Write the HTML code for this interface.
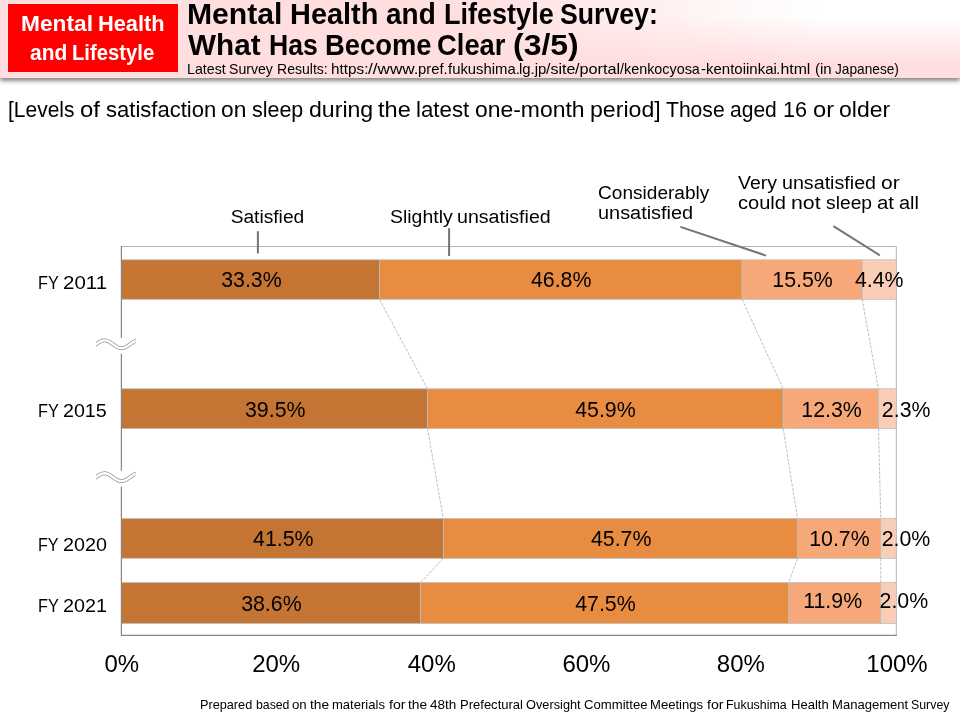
<!DOCTYPE html>
<html lang="en">
<head>
<meta charset="utf-8">
<title>Mental Health and Lifestyle Survey: What Has Become Clear (3/5)</title>
<style>
html,body{margin:0;padding:0;background:#fff;}
body{width:960px;height:720px;position:relative;overflow:hidden;font-family:"Liberation Sans",sans-serif;color:#000;}
#hdr{position:absolute;left:0;top:0;width:960px;height:77.8px;background:linear-gradient(to bottom,rgba(255,222,223,0) 17px,#FFDEDF 64px),linear-gradient(to right,rgba(255,255,255,0) 450px,#fff 820px),#FFDEDF;box-shadow:0 3px 4px rgba(0,0,0,.46);}
#tag{position:absolute;left:8px;top:4px;width:170px;height:67.8px;background:#FF0000;box-shadow:0 0 0 1px rgba(255,255,255,.32);}
.ln{position:absolute;left:0;top:0;width:0;height:0;}
.t{position:absolute;display:block;white-space:nowrap;transform-origin:0 0;}
svg{position:absolute;left:0;top:0;}
</style>
</head>
<body>
<div id="hdr"></div>
<div id="tag"></div>
<svg width="960" height="720" viewBox="0 0 960 720">
<path d="M121.4 246.5H896.3V635.3" fill="none" stroke="#B4B4B4" stroke-width="1"/>
<rect x="121.40" y="259.8" width="258.04" height="39.50" fill="#C47534" stroke="#BDBDBD" stroke-width="0.8"/>
<rect x="379.44" y="259.8" width="362.65" height="39.50" fill="#E88C42" stroke="#BDBDBD" stroke-width="0.8"/>
<rect x="742.09" y="259.8" width="120.11" height="39.50" fill="#F7A878" stroke="#BDBDBD" stroke-width="0.8"/>
<rect x="862.20" y="259.8" width="34.10" height="39.50" fill="#FACDB7" stroke="#BDBDBD" stroke-width="0.8"/>
<rect x="121.40" y="388.8" width="306.09" height="39.70" fill="#C47534" stroke="#BDBDBD" stroke-width="0.8"/>
<rect x="427.49" y="388.8" width="355.68" height="39.70" fill="#E88C42" stroke="#BDBDBD" stroke-width="0.8"/>
<rect x="783.16" y="388.8" width="95.31" height="39.70" fill="#F7A878" stroke="#BDBDBD" stroke-width="0.8"/>
<rect x="878.48" y="388.8" width="17.82" height="39.70" fill="#FACDB7" stroke="#BDBDBD" stroke-width="0.8"/>
<rect x="121.40" y="518.6" width="321.97" height="39.70" fill="#C47534" stroke="#BDBDBD" stroke-width="0.8"/>
<rect x="443.37" y="518.6" width="354.13" height="39.70" fill="#E88C42" stroke="#BDBDBD" stroke-width="0.8"/>
<rect x="797.50" y="518.6" width="83.30" height="39.70" fill="#F7A878" stroke="#BDBDBD" stroke-width="0.8"/>
<rect x="880.80" y="518.6" width="15.50" height="39.70" fill="#FACDB7" stroke="#BDBDBD" stroke-width="0.8"/>
<rect x="121.40" y="582.6" width="299.11" height="40.90" fill="#C47534" stroke="#BDBDBD" stroke-width="0.8"/>
<rect x="420.51" y="582.6" width="368.08" height="40.90" fill="#E88C42" stroke="#BDBDBD" stroke-width="0.8"/>
<rect x="788.59" y="582.6" width="92.21" height="40.90" fill="#F7A878" stroke="#BDBDBD" stroke-width="0.8"/>
<rect x="880.80" y="582.6" width="15.50" height="40.90" fill="#FACDB7" stroke="#BDBDBD" stroke-width="0.8"/>
<line x1="379.44" y1="299.3" x2="427.49" y2="388.8" stroke="#ADADAD" stroke-width="0.8" stroke-dasharray="3 1.3"/>
<line x1="742.09" y1="299.3" x2="783.16" y2="388.8" stroke="#ADADAD" stroke-width="0.8" stroke-dasharray="3 1.3"/>
<line x1="862.20" y1="299.3" x2="878.48" y2="388.8" stroke="#ADADAD" stroke-width="0.8" stroke-dasharray="3 1.3"/>
<line x1="427.49" y1="428.5" x2="443.37" y2="518.6" stroke="#ADADAD" stroke-width="0.8" stroke-dasharray="3 1.3"/>
<line x1="783.16" y1="428.5" x2="797.50" y2="518.6" stroke="#ADADAD" stroke-width="0.8" stroke-dasharray="3 1.3"/>
<line x1="878.48" y1="428.5" x2="880.80" y2="518.6" stroke="#ADADAD" stroke-width="0.8" stroke-dasharray="3 1.3"/>
<line x1="443.37" y1="558.3" x2="420.51" y2="582.6" stroke="#ADADAD" stroke-width="0.8" stroke-dasharray="3 1.3"/>
<line x1="797.50" y1="558.3" x2="788.59" y2="582.6" stroke="#ADADAD" stroke-width="0.8" stroke-dasharray="3 1.3"/>
<line x1="880.80" y1="558.3" x2="880.80" y2="582.6" stroke="#ADADAD" stroke-width="0.8" stroke-dasharray="3 1.3"/>
<path d="M121.4 246.0V635.3H896.8" fill="none" stroke="#858585" stroke-width="1.2"/>
<line x1="257.9" y1="231.2" x2="257.9" y2="253.5" stroke="#747474" stroke-width="2"/>
<line x1="449.1" y1="228.1" x2="449.1" y2="256" stroke="#747474" stroke-width="2"/>
<line x1="680.4" y1="226.9" x2="766" y2="255.6" stroke="#747474" stroke-width="2"/>
<line x1="833.4" y1="226.1" x2="879.8" y2="255.3" stroke="#747474" stroke-width="2"/>
<rect x="119.4" y="337.90" width="4" height="15.8" fill="#fff"/><clipPath id="wc1"><rect x="96.0" y="332.3" width="39.69999999999999" height="24"/></clipPath><g clip-path="url(#wc1)"><path d="M94.20 345.58L94.80 345.16L95.40 344.73L96.00 344.30L96.60 343.87L97.20 343.44L97.80 343.02L98.41 342.62L99.01 342.24L99.61 341.89L100.21 341.56L100.81 341.27L101.41 341.02L102.02 340.80L102.62 340.63L103.22 340.51L103.82 340.43L104.42 340.40L105.02 340.42L105.62 340.48L106.23 340.60L106.83 340.76L107.43 340.96L108.03 341.20L108.63 341.48L109.23 341.80L109.83 342.15L110.44 342.52L111.04 342.92L111.64 343.33L112.24 343.75L112.84 344.19L113.44 344.62L114.05 345.05L114.65 345.47L115.25 345.87L115.85 346.26L116.45 346.62L117.05 346.96L117.65 347.26L118.26 347.52L118.86 347.74L119.46 347.93L120.06 348.06L120.66 348.15L121.26 348.20L121.87 348.19L122.47 348.14L123.07 348.04L123.67 347.89L124.27 347.70L124.87 347.47L125.47 347.19L126.08 346.89L126.68 346.55L127.28 346.18L127.88 345.79L128.48 345.38L129.08 344.96L129.68 344.53L130.29 344.09L130.89 343.66L131.49 343.24L132.09 342.83L132.69 342.44L133.29 342.07L133.90 341.73L134.50 341.42L135.10 341.15L135.70 340.91L136.30 340.72L136.90 340.57L137.50 340.47" fill="none" stroke="#969696" stroke-width="3.9"/><path d="M94.20 345.58L94.80 345.16L95.40 344.73L96.00 344.30L96.60 343.87L97.20 343.44L97.80 343.02L98.41 342.62L99.01 342.24L99.61 341.89L100.21 341.56L100.81 341.27L101.41 341.02L102.02 340.80L102.62 340.63L103.22 340.51L103.82 340.43L104.42 340.40L105.02 340.42L105.62 340.48L106.23 340.60L106.83 340.76L107.43 340.96L108.03 341.20L108.63 341.48L109.23 341.80L109.83 342.15L110.44 342.52L111.04 342.92L111.64 343.33L112.24 343.75L112.84 344.19L113.44 344.62L114.05 345.05L114.65 345.47L115.25 345.87L115.85 346.26L116.45 346.62L117.05 346.96L117.65 347.26L118.26 347.52L118.86 347.74L119.46 347.93L120.06 348.06L120.66 348.15L121.26 348.20L121.87 348.19L122.47 348.14L123.07 348.04L123.67 347.89L124.27 347.70L124.87 347.47L125.47 347.19L126.08 346.89L126.68 346.55L127.28 346.18L127.88 345.79L128.48 345.38L129.08 344.96L129.68 344.53L130.29 344.09L130.89 343.66L131.49 343.24L132.09 342.83L132.69 342.44L133.29 342.07L133.90 341.73L134.50 341.42L135.10 341.15L135.70 340.91L136.30 340.72L136.90 340.57L137.50 340.47" fill="none" stroke="#fff" stroke-width="2.4"/></g>
<rect x="119.4" y="470.80" width="4" height="15.8" fill="#fff"/><clipPath id="wc2"><rect x="96.0" y="465.2" width="39.69999999999999" height="24"/></clipPath><g clip-path="url(#wc2)"><path d="M94.20 478.48L94.80 478.06L95.40 477.63L96.00 477.20L96.60 476.77L97.20 476.34L97.80 475.92L98.41 475.52L99.01 475.14L99.61 474.79L100.21 474.46L100.81 474.17L101.41 473.92L102.02 473.70L102.62 473.53L103.22 473.41L103.82 473.33L104.42 473.30L105.02 473.32L105.62 473.38L106.23 473.50L106.83 473.66L107.43 473.86L108.03 474.10L108.63 474.38L109.23 474.70L109.83 475.05L110.44 475.42L111.04 475.82L111.64 476.23L112.24 476.65L112.84 477.09L113.44 477.52L114.05 477.95L114.65 478.37L115.25 478.77L115.85 479.16L116.45 479.52L117.05 479.86L117.65 480.16L118.26 480.42L118.86 480.64L119.46 480.83L120.06 480.96L120.66 481.05L121.26 481.10L121.87 481.09L122.47 481.04L123.07 480.94L123.67 480.79L124.27 480.60L124.87 480.37L125.47 480.09L126.08 479.79L126.68 479.45L127.28 479.08L127.88 478.69L128.48 478.28L129.08 477.86L129.68 477.43L130.29 476.99L130.89 476.56L131.49 476.14L132.09 475.73L132.69 475.34L133.29 474.97L133.90 474.63L134.50 474.32L135.10 474.05L135.70 473.81L136.30 473.62L136.90 473.47L137.50 473.37" fill="none" stroke="#969696" stroke-width="3.9"/><path d="M94.20 478.48L94.80 478.06L95.40 477.63L96.00 477.20L96.60 476.77L97.20 476.34L97.80 475.92L98.41 475.52L99.01 475.14L99.61 474.79L100.21 474.46L100.81 474.17L101.41 473.92L102.02 473.70L102.62 473.53L103.22 473.41L103.82 473.33L104.42 473.30L105.02 473.32L105.62 473.38L106.23 473.50L106.83 473.66L107.43 473.86L108.03 474.10L108.63 474.38L109.23 474.70L109.83 475.05L110.44 475.42L111.04 475.82L111.64 476.23L112.24 476.65L112.84 477.09L113.44 477.52L114.05 477.95L114.65 478.37L115.25 478.77L115.85 479.16L116.45 479.52L117.05 479.86L117.65 480.16L118.26 480.42L118.86 480.64L119.46 480.83L120.06 480.96L120.66 481.05L121.26 481.10L121.87 481.09L122.47 481.04L123.07 480.94L123.67 480.79L124.27 480.60L124.87 480.37L125.47 480.09L126.08 479.79L126.68 479.45L127.28 479.08L127.88 478.69L128.48 478.28L129.08 477.86L129.68 477.43L130.29 476.99L130.89 476.56L131.49 476.14L132.09 475.73L132.69 475.34L133.29 474.97L133.90 474.63L134.50 474.32L135.10 474.05L135.70 473.81L136.30 473.62L136.90 473.47L137.50 473.37" fill="none" stroke="#fff" stroke-width="2.4"/></g>
</svg>
<div class="ln"><span class="t" style="left:20.52px;top:10.99px;font-size:22.2px;line-height:26.64px;transform:scaleX(1.0240);font-weight:bold;color:#fff;">Mental</span> <span class="t" style="left:97.68px;top:10.99px;font-size:22.2px;line-height:26.64px;transform:scaleX(0.9824);font-weight:bold;color:#fff;">Health</span></div>
<div class="ln"><span class="t" style="left:29.88px;top:39.99px;font-size:22.2px;line-height:26.64px;transform:scaleX(0.9441);font-weight:bold;color:#fff;">and</span> <span class="t" style="left:72.41px;top:39.99px;font-size:22.2px;line-height:26.64px;transform:scaleX(0.9128);font-weight:bold;color:#fff;">Lifestyle</span></div>
<div class="ln"><span class="t" style="left:186.94px;top:-4.02px;font-size:29.6px;line-height:35.52px;transform:scaleX(1.0184);font-weight:bold;">Mental</span> <span class="t" style="left:289.85px;top:-4.02px;font-size:29.6px;line-height:35.52px;transform:scaleX(0.9770);font-weight:bold;">Health</span> <span class="t" style="left:386.18px;top:-4.02px;font-size:29.6px;line-height:35.52px;transform:scaleX(0.9447);font-weight:bold;">and</span> <span class="t" style="left:444.13px;top:-4.02px;font-size:29.6px;line-height:35.52px;transform:scaleX(0.9135);font-weight:bold;">Lifestyle</span> <span class="t" style="left:560.14px;top:-4.02px;font-size:29.6px;line-height:35.52px;transform:scaleX(0.9011);font-weight:bold;">Survey:</span></div>
<div class="ln"><span class="t" style="left:188.00px;top:26.98px;font-size:29.6px;line-height:35.52px;transform:scaleX(1.0028);font-weight:bold;">What</span> <span class="t" style="left:269.33px;top:26.98px;font-size:29.6px;line-height:35.52px;transform:scaleX(0.8999);font-weight:bold;">Has</span> <span class="t" style="left:324.60px;top:26.98px;font-size:29.6px;line-height:35.52px;transform:scaleX(0.9244);font-weight:bold;">Become</span> <span class="t" style="left:437.48px;top:26.98px;font-size:29.6px;line-height:35.52px;transform:scaleX(0.9252);font-weight:bold;">Clear</span> <span class="t" style="left:512.84px;top:26.98px;font-size:29.6px;line-height:35.52px;transform:scaleX(1.0794);font-weight:bold;">(3/5)</span></div>
<div class="ln"><span class="t" style="left:186.86px;top:60.99px;font-size:14.8px;line-height:17.76px;transform:scaleX(0.9611);">Latest</span> <span class="t" style="left:229.20px;top:60.99px;font-size:14.8px;line-height:17.76px;transform:scaleX(0.9525);">Survey</span> <span class="t" style="left:276.73px;top:60.99px;font-size:14.8px;line-height:17.76px;transform:scaleX(0.9484);">Results:</span> <span class="t" style="left:331.03px;top:60.99px;font-size:14.8px;line-height:17.76px;transform:scaleX(1.0341);">https:</span><span class="t" style="left:368.12px;top:60.99px;font-size:14.8px;line-height:17.76px;transform:scaleX(1.1589);">//www.</span><span class="t" style="left:418.27px;top:60.99px;font-size:14.8px;line-height:17.76px;transform:scaleX(1.0001);">pref.</span><span class="t" style="left:447.60px;top:60.99px;font-size:14.8px;line-height:17.76px;transform:scaleX(1.0050);">fukushima.</span><span class="t" style="left:519.06px;top:60.99px;font-size:14.8px;line-height:17.76px;transform:scaleX(1.0089);">lg.jp</span><span class="t" style="left:546.24px;top:60.99px;font-size:14.8px;line-height:17.76px;transform:scaleX(1.0782);">/site</span><span class="t" style="left:575.21px;top:60.99px;font-size:14.8px;line-height:17.76px;transform:scaleX(1.0985);">/portal</span><span class="t" style="left:620.34px;top:60.99px;font-size:14.8px;line-height:17.76px;transform:scaleX(0.9708);">/kenkocyosa</span><span class="t" style="left:701.17px;top:60.99px;font-size:14.8px;line-height:17.76px;transform:scaleX(1.0128);">-kentoiinkai</span><span class="t" style="left:776.46px;top:60.99px;font-size:14.8px;line-height:17.76px;transform:scaleX(1.0723);">.html</span> <span class="t" style="left:814.82px;top:60.99px;font-size:14.8px;line-height:17.76px;transform:scaleX(1.0135);">(in</span> <span class="t" style="left:835.20px;top:60.99px;font-size:14.8px;line-height:17.76px;transform:scaleX(0.9245);">Japanese)</span></div>
<div class="ln"><span class="t" style="left:8.03px;top:96.99px;font-size:22.2px;line-height:26.64px;transform:scaleX(0.9452);">[Levels</span> <span class="t" style="left:79.85px;top:96.99px;font-size:22.2px;line-height:26.64px;transform:scaleX(1.0778);">of</span> <span class="t" style="left:105.58px;top:96.99px;font-size:22.2px;line-height:26.64px;transform:scaleX(0.9927);">satisfaction</span> <span class="t" style="left:221.30px;top:96.99px;font-size:22.2px;line-height:26.64px;transform:scaleX(1.0253);">on</span> <span class="t" style="left:252.30px;top:96.99px;font-size:22.2px;line-height:26.64px;transform:scaleX(0.9671);">sleep</span> <span class="t" style="left:308.94px;top:96.99px;font-size:22.2px;line-height:26.64px;transform:scaleX(1.0408);">during</span> <span class="t" style="left:377.58px;top:96.99px;font-size:22.2px;line-height:26.64px;transform:scaleX(1.0638);">the</span> <span class="t" style="left:415.89px;top:96.99px;font-size:22.2px;line-height:26.64px;transform:scaleX(1.0030);">latest</span> <span class="t" style="left:474.76px;top:96.99px;font-size:22.2px;line-height:26.64px;transform:scaleX(1.0330);">one-month</span> <span class="t" style="left:590.06px;top:96.99px;font-size:22.2px;line-height:26.64px;transform:scaleX(1.0419);">period]</span> <span class="t" style="left:666.31px;top:96.99px;font-size:22.2px;line-height:26.64px;transform:scaleX(0.9507);">Those</span> <span class="t" style="left:730.44px;top:96.99px;font-size:22.2px;line-height:26.64px;transform:scaleX(0.9481);">aged</span> <span class="t" style="left:783.40px;top:96.99px;font-size:22.2px;line-height:26.64px;transform:scaleX(0.9750);">16</span> <span class="t" style="left:812.68px;top:96.99px;font-size:22.2px;line-height:26.64px;transform:scaleX(1.0651);">or</span> <span class="t" style="left:839.20px;top:96.99px;font-size:22.2px;line-height:26.64px;transform:scaleX(1.0351);">older</span></div>
<div class="ln"><span class="t" style="left:230.64px;top:204.83px;font-size:19.2px;line-height:23.04px;transform:scaleX(1.0000);">Satisfied</span></div>
<div class="ln"><span class="t" style="left:389.72px;top:204.83px;font-size:19.2px;line-height:23.04px;transform:scaleX(1.0134);">Slightly</span> <span class="t" style="left:457.44px;top:204.83px;font-size:19.2px;line-height:23.04px;transform:scaleX(1.0215);">unsatisfied</span></div>
<div class="ln"><span class="t" style="left:597.80px;top:180.83px;font-size:19.2px;line-height:23.04px;transform:scaleX(0.9942);">Considerably</span></div>
<div class="ln"><span class="t" style="left:597.56px;top:200.83px;font-size:19.2px;line-height:23.04px;transform:scaleX(1.0367);">unsatisfied</span></div>
<div class="ln"><span class="t" style="left:738.30px;top:170.83px;font-size:19.2px;line-height:23.04px;transform:scaleX(1.0148);">Very</span> <span class="t" style="left:782.30px;top:170.83px;font-size:19.2px;line-height:23.04px;transform:scaleX(1.0249);">unsatisfied</span> <span class="t" style="left:881.33px;top:170.83px;font-size:19.2px;line-height:23.04px;transform:scaleX(1.0981);">or</span></div>
<div class="ln"><span class="t" style="left:737.50px;top:190.83px;font-size:19.2px;line-height:23.04px;transform:scaleX(1.0448);">could</span> <span class="t" style="left:790.54px;top:190.83px;font-size:19.2px;line-height:23.04px;transform:scaleX(1.1123);">not</span> <span class="t" style="left:825.53px;top:190.83px;font-size:19.2px;line-height:23.04px;transform:scaleX(1.0043);">sleep</span> <span class="t" style="left:876.53px;top:190.83px;font-size:19.2px;line-height:23.04px;transform:scaleX(1.0658);">at</span> <span class="t" style="left:898.81px;top:190.83px;font-size:19.2px;line-height:23.04px;transform:scaleX(1.0373);">all</span></div>
<div class="ln"><span class="t" style="left:38.10px;top:270.83px;font-size:19.2px;line-height:23.04px;transform:scaleX(0.8473);">FY</span> <span class="t" style="left:63.20px;top:270.83px;font-size:19.2px;line-height:23.04px;transform:scaleX(1.0668);">2011</span></div>
<div class="ln"><span class="t" style="left:38.09px;top:398.83px;font-size:19.2px;line-height:23.04px;transform:scaleX(0.8514);">FY</span> <span class="t" style="left:63.36px;top:398.83px;font-size:19.2px;line-height:23.04px;transform:scaleX(1.0242);">2015</span></div>
<div class="ln"><span class="t" style="left:38.11px;top:532.83px;font-size:19.2px;line-height:23.04px;transform:scaleX(0.8418);">FY</span> <span class="t" style="left:63.08px;top:532.83px;font-size:19.2px;line-height:23.04px;transform:scaleX(1.0287);">2020</span></div>
<div class="ln"><span class="t" style="left:38.10px;top:593.83px;font-size:19.2px;line-height:23.04px;transform:scaleX(0.8473);">FY</span> <span class="t" style="left:63.24px;top:593.83px;font-size:19.2px;line-height:23.04px;transform:scaleX(1.0296);">2021</span></div>
<div class="ln"><span class="t" style="left:199.73px;top:696.70px;font-size:13.0px;line-height:15.6px;transform:scaleX(0.9765);">Prepared</span> <span class="t" style="left:255.50px;top:696.70px;font-size:13.0px;line-height:15.6px;transform:scaleX(0.9441);">based</span> <span class="t" style="left:292.23px;top:696.70px;font-size:13.0px;line-height:15.6px;transform:scaleX(1.0193);">on</span> <span class="t" style="left:310.17px;top:696.70px;font-size:13.0px;line-height:15.6px;transform:scaleX(1.0575);">the</span> <span class="t" style="left:332.47px;top:696.70px;font-size:13.0px;line-height:15.6px;transform:scaleX(1.0032);">materials</span> <span class="t" style="left:388.51px;top:696.70px;font-size:13.0px;line-height:15.6px;transform:scaleX(1.0846);">for</span> <span class="t" style="left:408.21px;top:696.70px;font-size:13.0px;line-height:15.6px;transform:scaleX(1.0575);">the</span> <span class="t" style="left:430.32px;top:696.70px;font-size:13.0px;line-height:15.6px;transform:scaleX(1.0382);">48th</span> <span class="t" style="left:459.71px;top:696.70px;font-size:13.0px;line-height:15.6px;transform:scaleX(1.0016);">Prefectural</span> <span class="t" style="left:525.91px;top:696.70px;font-size:13.0px;line-height:15.6px;transform:scaleX(0.9825);">Oversight</span> <span class="t" style="left:583.66px;top:696.70px;font-size:13.0px;line-height:15.6px;transform:scaleX(1.0110);">Committee</span> <span class="t" style="left:650.35px;top:696.70px;font-size:13.0px;line-height:15.6px;transform:scaleX(1.0057);">Meetings</span> <span class="t" style="left:706.55px;top:696.70px;font-size:13.0px;line-height:15.6px;transform:scaleX(1.0846);">for</span> <span class="t" style="left:726.16px;top:696.70px;font-size:13.0px;line-height:15.6px;transform:scaleX(0.9536);">Fukushima</span> <span class="t" style="left:790.69px;top:696.70px;font-size:13.0px;line-height:15.6px;transform:scaleX(1.0040);">Health</span> <span class="t" style="left:831.71px;top:696.70px;font-size:13.0px;line-height:15.6px;transform:scaleX(1.0044);">Management</span> <span class="t" style="left:911.05px;top:696.70px;font-size:13.0px;line-height:15.6px;transform:scaleX(0.9503);">Survey</span></div>
<div class="ln"><span class="t" style="left:221.20px;top:267.81px;font-size:21.33px;line-height:25.6px;">33.3%</span></div>
<div class="ln"><span class="t" style="left:530.91px;top:267.81px;font-size:21.33px;line-height:25.6px;">46.8%</span></div>
<div class="ln"><span class="t" style="left:772.37px;top:267.81px;font-size:21.33px;line-height:25.6px;">15.5%</span></div>
<div class="ln"><span class="t" style="left:854.89px;top:267.81px;font-size:21.33px;line-height:25.6px;">4.4%</span></div>
<div class="ln"><span class="t" style="left:245.00px;top:397.81px;font-size:21.33px;line-height:25.6px;">39.5%</span></div>
<div class="ln"><span class="t" style="left:575.16px;top:397.81px;font-size:21.33px;line-height:25.6px;">45.9%</span></div>
<div class="ln"><span class="t" style="left:801.37px;top:397.81px;font-size:21.33px;line-height:25.6px;">12.3%</span></div>
<div class="ln"><span class="t" style="left:881.87px;top:397.81px;font-size:21.33px;line-height:25.6px;">2.3%</span></div>
<div class="ln"><span class="t" style="left:253.04px;top:526.81px;font-size:21.33px;line-height:25.6px;">41.5%</span></div>
<div class="ln"><span class="t" style="left:590.91px;top:526.81px;font-size:21.33px;line-height:25.6px;">45.7%</span></div>
<div class="ln"><span class="t" style="left:809.20px;top:526.81px;font-size:21.33px;line-height:25.6px;">10.7%</span></div>
<div class="ln"><span class="t" style="left:881.67px;top:526.81px;font-size:21.33px;line-height:25.6px;">2.0%</span></div>
<div class="ln"><span class="t" style="left:241.13px;top:591.81px;font-size:21.33px;line-height:25.6px;">38.6%</span></div>
<div class="ln"><span class="t" style="left:575.16px;top:591.81px;font-size:21.33px;line-height:25.6px;">47.5%</span></div>
<div class="ln"><span class="t" style="left:803.22px;top:588.81px;font-size:21.33px;line-height:25.6px;">11.9%</span></div>
<div class="ln"><span class="t" style="left:879.57px;top:588.81px;font-size:21.33px;line-height:25.6px;">2.0%</span></div>
<div class="ln"><span class="t" style="left:104.52px;top:650.28px;font-size:24.0px;line-height:28.8px;">0%</span></div>
<div class="ln"><span class="t" style="left:252.17px;top:650.28px;font-size:24.0px;line-height:28.8px;">20%</span></div>
<div class="ln"><span class="t" style="left:407.78px;top:650.28px;font-size:24.0px;line-height:28.8px;">40%</span></div>
<div class="ln"><span class="t" style="left:562.42px;top:650.28px;font-size:24.0px;line-height:28.8px;">60%</span></div>
<div class="ln"><span class="t" style="left:716.79px;top:650.28px;font-size:24.0px;line-height:28.8px;">80%</span></div>
<div class="ln"><span class="t" style="left:866.32px;top:650.28px;font-size:24.0px;line-height:28.8px;">100%</span></div>
</body>
</html>
